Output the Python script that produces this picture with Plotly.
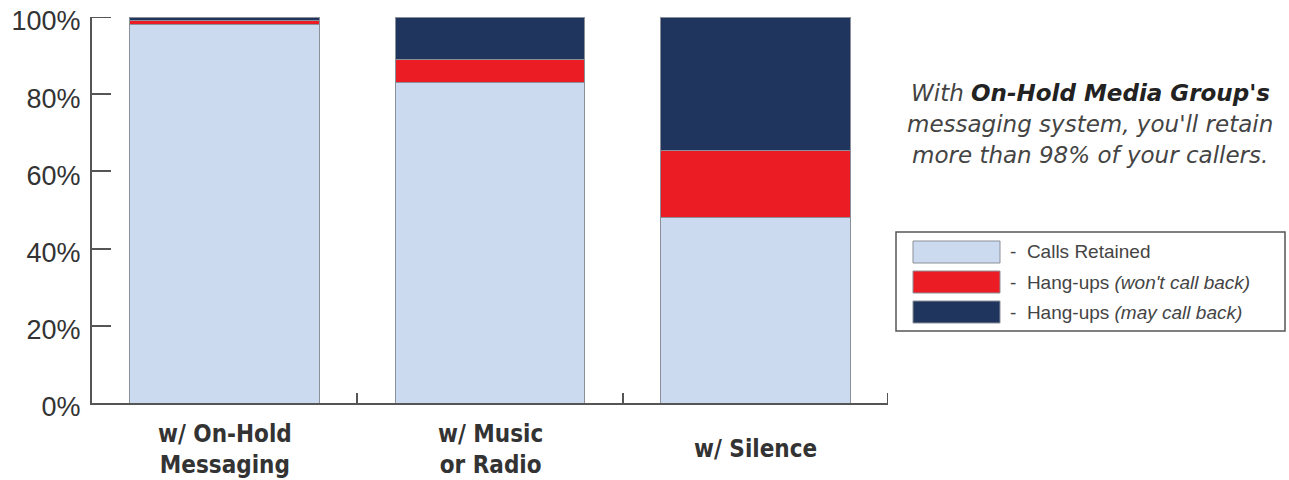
import plotly.graph_objects as go

categories = ["w/ On-Hold<br>Messaging", "w/ Music<br>or Radio", "w/ Silence"]
series_names = ["Calls Retained", "Hang-ups <i>(won't call back)</i>", "Hang-ups <i>(may call back)</i>"]
retained = [98, 83, 48]
wont_call_back = [1, 6, 17.5]
may_call_back = [1, 11, 34.5]
series_values = [retained, wont_call_back, may_call_back]
series_colors = ["#ccdaf0", "#ec1c24", "#1f355e"]
y_ticks = [0, 20, 40, 60, 80, 100]
note_lines = ["With <span style='font-weight:bold;fill:#222'>On-Hold Media Group's</span>",
              "messaging system, you'll retain",
              "more than 98% of your callers."]

W, H = 1289, 480
L, R, T, B = 92, 401, 17, 77
PW, PH = W - L - R, H - T - B
AXIS_COL = "#555"


def px(x):
    return (x - L) / PW


def py(y):
    return (H - B - y) / PH


xs = list(range(len(categories)))
boundaries = [i - 0.5 for i in range(len(categories) + 1)]

fig = go.Figure()
for name, vals, col in zip(series_names, series_values, series_colors):
    fig.add_trace(go.Bar(
        x=xs, y=vals, name=name, width=0.716,
        marker=dict(color=col, line=dict(color="#8a8f99", width=1)),
        showlegend=False, hoverinfo="skip",
    ))

fig.update_layout(
    width=W, height=H, barmode="stack",
    margin=dict(l=L, r=R, t=T, b=B, pad=0, autoexpand=False),
    paper_bgcolor="white", plot_bgcolor="white",
    font=dict(family="Liberation Sans, Arial, sans-serif", color="#333"),
)
fig.update_xaxes(
    range=[boundaries[0], boundaries[-1]], showline=True, linecolor=AXIS_COL, linewidth=2,
    ticks="inside", ticklen=10, tickwidth=2, tickcolor=AXIS_COL,
    tickvals=boundaries, showticklabels=False, showgrid=False, zeroline=False,
    fixedrange=True, automargin=False,
)
fig.update_yaxes(
    range=[y_ticks[0], y_ticks[-1]], showline=True, linecolor=AXIS_COL, linewidth=2,
    ticks="inside", ticklen=19, tickwidth=2, tickcolor=AXIS_COL,
    tickvals=y_ticks, ticktext=[f"{v}%" for v in y_ticks],
    tickfont=dict(size=27, color="#333"), ticklabelstandoff=4, ticklabelshift=4,
    showgrid=False, zeroline=False, fixedrange=True, automargin=False,
)

# plotly hides inside ticks at the very ends of an axis; draw those two explicitly
fig.add_shape(type="line", xref="paper", yref="y", x0=0, x1=19 / PW,
              y0=y_ticks[-1], y1=y_ticks[-1], line=dict(color=AXIS_COL, width=2))
fig.add_shape(type="line", xref="x", yref="paper", x0=boundaries[-1], x1=boundaries[-1],
              y0=0, y1=10 / PH, line=dict(color=AXIS_COL, width=2))

for i, c in enumerate(categories):
    fig.add_annotation(
        x=i, xref="x", y=py(449), yref="paper", text=f"<b>{c}</b>",
        showarrow=False, xanchor="center", yanchor="middle", align="center",
        font=dict(family="Liberation Sans Narrow, DejaVu Sans Condensed, Roboto, sans-serif",
                  size=24, color="#333"),
    )

for line, yc in zip(note_lines, [93, 124, 155]):
    fig.add_annotation(
        x=px(1090), xref="paper", y=py(yc), yref="paper", text=f"<i>{line}</i>",
        showarrow=False, xanchor="center", yanchor="middle", align="center",
        font=dict(family="DejaVu Sans, sans-serif", size=23, color="#444"),
    )

# custom legend
fig.add_shape(type="rect", xref="paper", yref="paper",
              x0=px(896), x1=px(1285), y0=py(331), y1=py(232),
              line=dict(color=AXIS_COL, width=1.5), fillcolor="rgba(0,0,0,0)")
row_y = [252, 282, 312]
for name, col, yc in zip(series_names, series_colors, row_y):
    fig.add_shape(type="rect", xref="paper", yref="paper",
                  x0=px(913), x1=px(1000), y0=py(yc + 11), y1=py(yc - 11),
                  line=dict(color="#8a8f99", width=1), fillcolor=col)
    fig.add_annotation(
        x=px(1008), xref="paper", y=py(yc), yref="paper", text=f"-  {name}",
        showarrow=False, xanchor="left", yanchor="middle",
        font=dict(family="Liberation Sans, Arial, sans-serif", size=19, color="#444"),
    )

fig.write_html("out.html")
